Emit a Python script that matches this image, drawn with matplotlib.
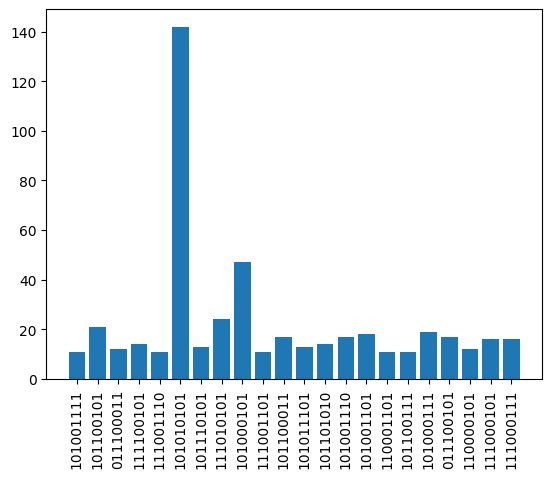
import matplotlib
matplotlib.use("Agg")
import matplotlib.pyplot as plt

labels = ["101001111", "101100101", "011100011", "111100101", "111001110",
          "101010101", "101110101", "111010101", "101000101", "111001101",
          "101100011", "101011101", "101101010", "101001110", "101001101",
          "110001101", "101100111", "101000111", "011100101", "110000101",
          "111000101", "111000111"]
counts = [11, 21, 12, 14, 11, 142, 13, 24, 47, 11, 17,
          13, 14, 17, 18, 11, 11, 19, 17, 12, 16, 16]

fig, ax = plt.subplots(figsize=(6.4, 4.8), dpi=100)
ax.bar(labels, counts)
plt.xticks(rotation=90)
fig.savefig("out.png", bbox_inches="tight")
